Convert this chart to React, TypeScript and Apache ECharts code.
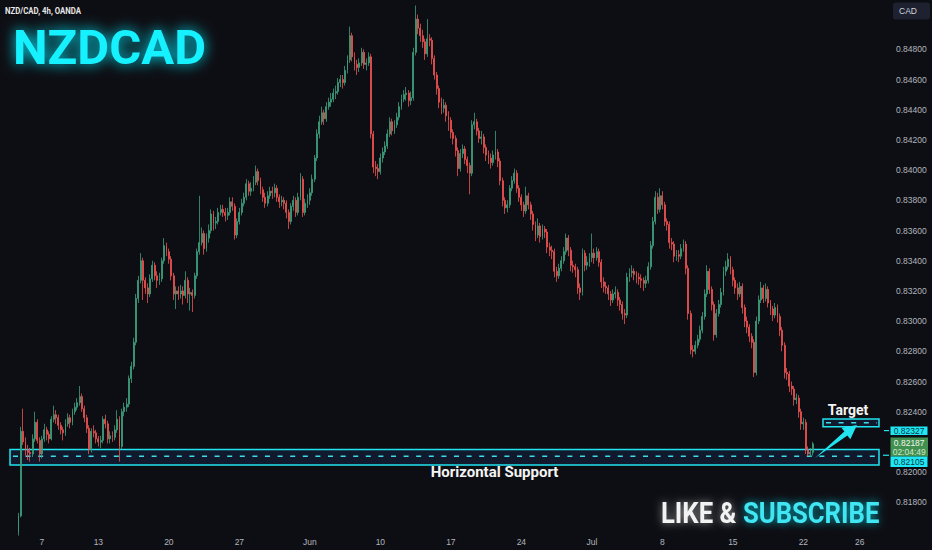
import React, { useEffect, useRef } from 'react';
import * as echarts from 'echarts';

// ---- data (NZD/CAD 4h candles) ----
const firstOpen = 0.8160;
const closes = [
  0.8171,0.8227,0.8220,0.8215,0.8213,0.8212,0.8222,0.8233,0.8221,0.8212,
  0.8222,0.8228,0.8225,0.8222,0.8235,0.8238,0.8236,0.8231,0.8228,0.8226,
  0.8232,0.8236,0.8233,0.8240,0.8243,0.8246,0.8250,0.8242,0.8236,0.8229,
  0.8215,0.8227,0.8226,0.8222,0.8220,0.8221,0.8235,0.8232,0.8222,0.8224,
  0.8223,0.8228,0.8235,0.8217,0.8240,0.8243,0.8245,0.8262,0.8270,0.8286,
  0.8315,0.8327,0.8340,0.8327,0.8322,0.8318,0.8328,0.8337,0.8330,0.8327,
  0.8328,0.8340,0.8350,0.8346,0.8341,0.8330,0.8318,0.8320,0.8318,0.8320,
  0.8317,0.8327,0.8318,0.8319,0.8317,0.8330,0.8346,0.8352,0.8358,0.8348,
  0.8355,0.8360,0.8371,0.8365,0.8366,0.8372,0.8374,0.8372,0.8370,0.8372,
  0.8379,0.8376,0.8357,0.8366,0.8372,0.8378,0.8382,0.8391,0.8386,0.8388,
  0.8392,0.8399,0.8393,0.8387,0.8382,0.8378,0.8383,0.8386,0.8385,0.8388,
  0.8382,0.8379,0.8380,0.8378,0.8372,0.8366,0.8376,0.8380,0.8372,0.8382,
  0.8394,0.8372,0.8378,0.8380,0.8385,0.8394,0.8408,0.8424,0.8432,0.8438,
  0.8434,0.8442,0.8445,0.8447,0.8451,0.8452,0.8458,0.8460,0.8458,0.8466,
  0.8473,0.8489,0.8475,0.8470,0.8468,0.8471,0.8478,0.8470,0.8471,0.8475,
  0.8424,0.8402,0.8401,0.8399,0.8408,0.8412,0.8416,0.8424,0.8432,0.8426,
  0.8430,0.8435,0.8442,0.8447,0.8450,0.8451,0.8446,0.8448,0.8478,0.8500,
  0.8494,0.8489,0.8485,0.8477,0.8487,0.8486,0.8474,0.8463,0.8454,0.8445,
  0.8441,0.8443,0.8436,0.8433,0.8425,0.8421,0.8413,0.8401,0.8411,0.8414,
  0.8407,0.8403,0.8398,0.8430,0.8432,0.8426,0.8421,0.8422,0.8415,0.8410,
  0.8408,0.8405,0.8410,0.8412,0.8406,0.8393,0.8380,0.8375,0.8377,0.8388,
  0.8393,0.8398,0.8388,0.8382,0.8377,0.8373,0.8383,0.8377,0.8371,0.8364,
  0.8357,0.8363,0.8356,0.8361,0.8359,0.8349,0.8347,0.8346,0.8333,0.8330,
  0.8335,0.8340,0.8346,0.8355,0.8347,0.8337,0.8336,0.8334,0.8322,0.8319,
  0.8345,0.8337,0.8339,0.8342,0.8345,0.8342,0.8346,0.8339,0.8326,0.8323,
  0.8322,0.8318,0.8314,0.8318,0.8319,0.8314,0.8311,0.8305,0.8304,0.8329,
  0.8332,0.8333,0.8331,0.8329,0.8328,0.8327,0.8325,0.8327,0.8336,0.8350,
  0.8366,0.8382,0.8374,0.8383,0.8377,0.8366,0.8364,0.8352,0.8351,0.8343,
  0.8344,0.8343,0.8348,0.8351,0.8335,0.8305,0.8281,0.8280,0.8284,0.8288,
  0.8294,0.8303,0.8318,0.8333,0.8321,0.8311,0.8291,0.8305,0.8311,0.8319,
  0.8333,0.8336,0.8341,0.8334,0.8327,0.8322,0.8318,0.8323,0.8309,0.8300,
  0.8296,0.8290,0.8286,0.8266,0.8300,0.8314,0.8322,0.8315,0.8321,0.8312,
  0.8308,0.8304,0.8309,0.8303,0.8294,0.8284,0.8266,0.8265,0.8257,0.8255,
  0.8248,0.8249,0.8240,0.8232,0.8233,0.8215,0.8212,0.8213,0.82187,
];
const highs = [
  0.8173,0.8230,0.8242,0.8223,0.8218,0.8216,0.8225,0.8240,0.8235,0.8223,
  0.8224,0.8232,0.8230,0.8227,0.8237,0.8244,0.8241,0.8238,0.8233,0.8230,
  0.8235,0.8239,0.8238,0.8242,0.8246,0.8249,0.8257,0.8252,0.8244,0.8238,
  0.8231,0.8229,0.8231,0.8228,0.8224,0.8224,0.8237,0.8238,0.8234,0.8227,
  0.8227,0.8231,0.8241,0.8237,0.8242,0.8246,0.8249,0.8264,0.8273,0.8289,
  0.8318,0.8330,0.8345,0.8342,0.8329,0.8325,0.8331,0.8340,0.8339,0.8333,
  0.8332,0.8342,0.8355,0.8352,0.8348,0.8343,0.8332,0.8323,0.8323,0.8324,
  0.8323,0.8333,0.8329,0.8322,0.8321,0.8332,0.8348,0.8383,0.8362,0.8360,
  0.8358,0.8364,0.8374,0.8373,0.8369,0.8375,0.8377,0.8377,0.8375,0.8375,
  0.8382,0.8382,0.8378,0.8368,0.8375,0.8381,0.8385,0.8394,0.8393,0.8392,
  0.8396,0.8403,0.8401,0.8395,0.8389,0.8385,0.8386,0.8389,0.8389,0.8391,
  0.8390,0.8384,0.8383,0.8382,0.8380,0.8374,0.8378,0.8383,0.8382,0.8385,
  0.8398,0.8396,0.8381,0.8384,0.8388,0.8397,0.8410,0.8427,0.8436,0.8442,
  0.8440,0.8445,0.8448,0.8451,0.8454,0.8456,0.8461,0.8463,0.8463,0.8469,
  0.8476,0.8495,0.8491,0.8478,0.8473,0.8474,0.8481,0.8480,0.8474,0.8478,
  0.8477,0.8426,0.8406,0.8404,0.8411,0.8415,0.8419,0.8427,0.8435,0.8434,
  0.8433,0.8438,0.8445,0.8450,0.8453,0.8455,0.8453,0.8452,0.8481,0.8509,
  0.8503,0.8497,0.8493,0.8487,0.8500,0.8490,0.8488,0.8476,0.8465,0.8456,
  0.8448,0.8447,0.8445,0.8439,0.8435,0.8427,0.8423,0.8415,0.8414,0.8417,
  0.8416,0.8409,0.8405,0.8433,0.8438,0.8434,0.8428,0.8426,0.8424,0.8417,
  0.8413,0.8411,0.8413,0.8426,0.8414,0.8408,0.8395,0.8382,0.8380,0.8390,
  0.8396,0.8401,0.8400,0.8390,0.8384,0.8379,0.8389,0.8385,0.8379,0.8373,
  0.8366,0.8368,0.8365,0.8364,0.8363,0.8361,0.8352,0.8350,0.8348,0.8336,
  0.8338,0.8343,0.8349,0.8358,0.8357,0.8349,0.8340,0.8338,0.8336,0.8325,
  0.8348,0.8347,0.8343,0.8345,0.8358,0.8348,0.8349,0.8348,0.8341,0.8329,
  0.8326,0.8324,0.8320,0.8321,0.8323,0.8321,0.8316,0.8313,0.8308,0.8332,
  0.8335,0.8337,0.8335,0.8333,0.8332,0.8331,0.8329,0.8330,0.8339,0.8353,
  0.8369,0.8386,0.8385,0.8388,0.8386,0.8379,0.8368,0.8366,0.8355,0.8353,
  0.8347,0.8347,0.8351,0.8354,0.8353,0.8337,0.8307,0.8284,0.8287,0.8291,
  0.8297,0.8306,0.8321,0.8337,0.8335,0.8323,0.8313,0.8308,0.8314,0.8322,
  0.8336,0.8340,0.8345,0.8343,0.8336,0.8329,0.8325,0.8326,0.8325,0.8311,
  0.8303,0.8298,0.8292,0.8288,0.8303,0.8317,0.8326,0.8324,0.8325,0.8323,
  0.8314,0.8310,0.8312,0.8311,0.8305,0.8296,0.8286,0.8269,0.8267,0.8260,
  0.8257,0.8252,0.8251,0.8242,0.8236,0.8235,0.8217,0.8216,0.8220,
];
const lows = [
  0.8158,0.8170,0.8218,0.8211,0.8208,0.8207,0.8210,0.8220,0.8219,0.8207,
  0.8209,0.8220,0.8221,0.8219,0.8221,0.8233,0.8232,0.8228,0.8225,0.8221,
  0.8224,0.8230,0.8229,0.8231,0.8238,0.8241,0.8244,0.8240,0.8233,0.8226,
  0.8212,0.8213,0.8223,0.8219,0.8217,0.8216,0.8219,0.8229,0.8219,0.8219,
  0.8220,0.8221,0.8226,0.8207,0.8215,0.8237,0.8240,0.8243,0.8259,0.8268,
  0.8284,0.8312,0.8325,0.8314,0.8318,0.8312,0.8316,0.8326,0.8327,0.8322,
  0.8324,0.8326,0.8338,0.8343,0.8338,0.8327,0.8314,0.8308,0.8314,0.8315,
  0.8311,0.8315,0.8312,0.8307,0.8306,0.8315,0.8328,0.8344,0.8350,0.8344,
  0.8346,0.8352,0.8358,0.8360,0.8361,0.8364,0.8370,0.8369,0.8366,0.8367,
  0.8370,0.8373,0.8354,0.8355,0.8364,0.8370,0.8376,0.8380,0.8383,0.8383,
  0.8386,0.8390,0.8390,0.8384,0.8379,0.8375,0.8376,0.8381,0.8381,0.8382,
  0.8379,0.8375,0.8376,0.8374,0.8368,0.8361,0.8364,0.8373,0.8369,0.8370,
  0.8380,0.8369,0.8370,0.8375,0.8377,0.8383,0.8392,0.8406,0.8421,0.8430,
  0.8430,0.8432,0.8440,0.8442,0.8445,0.8447,0.8450,0.8455,0.8454,0.8456,
  0.8464,0.8471,0.8472,0.8466,0.8463,0.8465,0.8469,0.8467,0.8466,0.8469,
  0.8421,0.8398,0.8396,0.8394,0.8397,0.8405,0.8410,0.8414,0.8422,0.8423,
  0.8424,0.8428,0.8433,0.8440,0.8445,0.8446,0.8442,0.8443,0.8446,0.8476,
  0.8490,0.8485,0.8481,0.8473,0.8475,0.8482,0.8470,0.8460,0.8450,0.8441,
  0.8437,0.8438,0.8432,0.8426,0.8421,0.8417,0.8409,0.8396,0.8399,0.8408,
  0.8404,0.8398,0.8384,0.8396,0.8427,0.8423,0.8418,0.8417,0.8411,0.8406,
  0.8404,0.8401,0.8403,0.8407,0.8402,0.8390,0.8376,0.8371,0.8372,0.8375,
  0.8386,0.8391,0.8385,0.8379,0.8373,0.8369,0.8371,0.8374,0.8367,0.8360,
  0.8353,0.8355,0.8352,0.8354,0.8355,0.8345,0.8343,0.8341,0.8329,0.8326,
  0.8328,0.8333,0.8338,0.8344,0.8343,0.8333,0.8332,0.8329,0.8318,0.8314,
  0.8317,0.8333,0.8334,0.8336,0.8339,0.8338,0.8340,0.8336,0.8322,0.8319,
  0.8318,0.8314,0.8310,0.8312,0.8315,0.8310,0.8307,0.8301,0.8298,0.8302,
  0.8326,0.8329,0.8327,0.8325,0.8324,0.8322,0.8320,0.8322,0.8325,0.8334,
  0.8348,0.8364,0.8371,0.8372,0.8374,0.8363,0.8360,0.8348,0.8347,0.8339,
  0.8340,0.8339,0.8341,0.8346,0.8331,0.8301,0.8278,0.8276,0.8278,0.8282,
  0.8286,0.8292,0.8301,0.8316,0.8318,0.8307,0.8287,0.8289,0.8303,0.8309,
  0.8317,0.8330,0.8334,0.8331,0.8323,0.8318,0.8314,0.8316,0.8305,0.8296,
  0.8292,0.8286,0.8282,0.8263,0.8264,0.8298,0.8312,0.8312,0.8313,0.8309,
  0.8304,0.8300,0.8302,0.8299,0.8290,0.8280,0.8262,0.8261,0.8253,0.8251,
  0.8244,0.8245,0.8236,0.8228,0.8228,0.8212,0.82105,0.8210,0.8211,
];

const slotCount = 370; // candle slots on the time axis (incl. empty space on the right)
const tickIdx = [10, 34, 64, 94, 124, 154, 184, 214, 244, 274, 304, 334, 358];
const tickText = ['7', '13', '20', '27', 'Jun', '10', '17', '24', 'Jul', '8', '15', '22', '26'];

const supportPrice = 0.82105;
const supportTop = 0.82150;
const supportBottom = 0.82047;
const targetPrice = 0.82327;
const targetTop = 0.82352;
const targetBottom = 0.82300;
const lastPrice = 0.82187;
const countdown = '02:04:49';

const yMin = 0.816;
const yMax = 0.8512;
const yStep = 0.002;

// ---- styles ----
const BG = '#0d0e13';
const UP = '#3da17d';
const DOWN = '#ef5350';
const CYAN = '#22e3f0';
const AXIS_TXT = '#b2b5be';

export default function App() {
  const ref = useRef<HTMLDivElement>(null);

  useEffect(() => {
    document.body.style.margin = '0';
    document.body.style.background = BG;
    const el = ref.current as HTMLDivElement;
    const chart = echarts.init(el, undefined, { renderer: 'svg' });

    const n = Math.min(closes.length, highs.length, lows.length);
    const opens = [firstOpen, ...closes.slice(0, n - 1)];
    const candles = [];
    for (let i = 0; i < n; i++) candles.push([opens[i], closes[i], lows[i], highs[i]]);

    const cats = Array.from({ length: slotCount }, (_, i) => 'c' + i);
    const labelAt: string[] = Array.from({ length: slotCount }, () => '');
    tickIdx.forEach((idx, k) => { labelAt[idx] = tickText[k]; });

    chart.setOption({
      animation: false,
      backgroundColor: BG,
      grid: { left: 17.3, top: 1, width: 869.5, height: 531.5 },
      xAxis: {
        type: 'category',
        data: cats,
        boundaryGap: true,
        axisLine: { show: false },
        axisTick: { show: false },
        splitLine: { show: false },
        axisLabel: {
          interval: 0,
          margin: 4.5,
          color: AXIS_TXT,
          fontSize: 8.5,
          fontFamily: 'Liberation Sans',
          formatter: (_v: string, idx: number) => labelAt[idx] || '',
        },
      },
      yAxis: {
        type: 'value',
        position: 'right',
        min: yMin,
        max: yMax,
        interval: yStep,
        scale: true,
        axisLine: { show: false },
        axisTick: { show: false },
        splitLine: { show: false },
        axisLabel: {
          margin: 9.2,
          color: AXIS_TXT,
          fontSize: 8.5,
          fontFamily: 'Liberation Sans',
          align: 'left',
          formatter: (v: number) => {
            if (v > 0.849 || v < 0.817) return '';
            if (Math.abs(v - 0.822) < 1e-6) return '';
            return v.toFixed(5);
          },
        },
      },
      series: [
        {
          type: 'candlestick',
          data: candles,
          barWidth: 1.4,
          z: 5,
          itemStyle: {
            color: UP,
            color0: DOWN,
            borderColor: UP,
            borderColor0: DOWN,
            borderWidth: 0.8,
          },
        },
      ],
    });

    const yPx = (p: number) => chart.convertToPixel({ yAxisIndex: 0 }, p) as number;
    const ySupT = yPx(supportTop);
    const ySupB = yPx(supportBottom);
    const ySup = yPx(supportPrice);
    const yTgtT = yPx(targetTop);
    const yTgtB = yPx(targetBottom);
    const yTgt = yPx(targetPrice);

    const txt = (o: any) => ({
      type: 'text',
      z: 60,
      x: o.x,
      y: o.y,
      scaleX: o.scaleX || 1,
      style: {
        text: o.text,
        fill: o.fill,
        fontSize: o.size,
        fontFamily: o.family || 'Roboto',
        fontWeight: o.weight || 'bold',
        align: o.align || 'left',
        textAlign: o.align || 'left',
        verticalAlign: 'middle',
        textVerticalAlign: 'middle',
        textShadowBlur: o.glow || 0,
        textShadowColor: o.glowColor || 'transparent',
      },
    });

    const elements: any[] = [
      // support zone
      {
        type: 'rect', z: 1,
        shape: { x: 10, y: ySupT, width: 869, height: ySupB - ySupT },
        style: { fill: 'rgba(40,90,175,0.17)', stroke: CYAN, lineWidth: 1.5 },
      },
      {
        type: 'line', z: 1,
        shape: { x1: 13, y1: ySup, x2: 877, y2: ySup },
        style: { stroke: '#3cdde8', lineWidth: 1.5, lineDash: [5, 7.6] },
      },
      // target zone
      {
        type: 'rect', z: 1,
        shape: { x: 823, y: yTgtT, width: 56, height: yTgtB - yTgtT },
        style: { fill: 'rgba(40,90,175,0.17)', stroke: CYAN, lineWidth: 1.5 },
      },
      {
        type: 'line', z: 1,
        shape: { x1: 826, y1: yTgt, x2: 877, y2: yTgt },
        style: { stroke: '#3cdde8', lineWidth: 1.5, lineDash: [5, 7.6] },
      },
      // arrow towards target
      {
        type: 'polygon', z: 20,
        shape: { points: [[815, 458], [847.4, 435.4], [850.3, 439.2], [857, 425], [841.5, 427.8], [844.4, 431.6]] },
        style: { fill: CYAN },
      },
      txt({ x: 848, y: 409.5, text: 'Target', fill: '#f4f4f4', size: 14, align: 'center' }),
      txt({ x: 494.5, y: 472, text: 'Horizontal Support', fill: '#f4f4f4', size: 15, align: 'center' }),

      // connectors to the price scale
      { type: 'line', z: 20, shape: { x1: 884, y1: 430.6, x2: 889, y2: 430.6 }, style: { stroke: CYAN, lineWidth: 1.2 } },
      { type: 'line', z: 20, shape: { x1: 883, y1: ySup - 1, x2: 889, y2: ySup - 1 }, style: { stroke: CYAN, lineWidth: 1.2 } },

      // price scale labels
      { type: 'rect', z: 30, shape: { x: 890.5, y: 426.5, width: 37, height: 8.4 }, style: { fill: '#1fe6f5' } },
      txt({ x: 909, y: 430.8, text: targetPrice.toFixed(5), fill: '#0b3a40', size: 8.5, family: 'Liberation Sans', weight: 'normal', align: 'center' }),
      { type: 'rect', z: 30, shape: { x: 890.5, y: 437.5, width: 37.5, height: 19 }, style: { fill: '#41904f' } },
      txt({ x: 909.2, y: 442.6, text: lastPrice.toFixed(5), fill: '#eef6ee', size: 8.5, family: 'Liberation Sans', weight: 'normal', align: 'center' }),
      txt({ x: 909.2, y: 451.6, text: countdown, fill: '#cfe6cf', size: 8.5, family: 'Liberation Sans', weight: 'normal', align: 'center' }),
      { type: 'rect', z: 30, shape: { x: 890.5, y: 456.5, width: 37, height: 10.6 }, style: { fill: '#1fe6f5' } },
      txt({ x: 909, y: 461.8, text: supportPrice.toFixed(5), fill: '#0b3a40', size: 8.5, family: 'Liberation Sans', weight: 'normal', align: 'center' }),

      // currency button
      { type: 'rect', z: 30, shape: { x: 893, y: 2.5, width: 37, height: 17, r: 3 }, style: { fill: '#1d2130' } },
      txt({ x: 899, y: 11, text: 'CAD', fill: '#d1d4dc', size: 8.5, family: 'Liberation Sans', weight: 'normal' }),

      // titles
      txt({ x: 5, y: 10.8, text: 'NZD/CAD, 4h, OANDA', fill: '#e6e6e6', size: 8.5, scaleX: 0.92 }),
      txt({ x: 13, y: 47.5, text: 'NZDCAD', fill: '#18f1ff', size: 49, glow: 14, glowColor: 'rgba(0,235,255,0.95)' }),
      txt({ x: 661, y: 512.5, text: 'LIKE &', fill: '#f3f3f3', size: 29.5, scaleX: 0.87, glow: 9, glowColor: 'rgba(255,255,255,0.55)' }),
      txt({ x: 743, y: 512.5, text: 'SUBSCRIBE', fill: '#3fe7f2', size: 29.5, scaleX: 0.87, glow: 9, glowColor: 'rgba(0,230,255,0.7)' }),
    ];

    chart.setOption({ graphic: { elements } });

    return () => chart.dispose();
  }, []);

  return (
    <div
      ref={ref}
      style={{ position: 'fixed', left: 0, top: 0, width: 932, height: 550, background: BG }}
    />
  );
}
